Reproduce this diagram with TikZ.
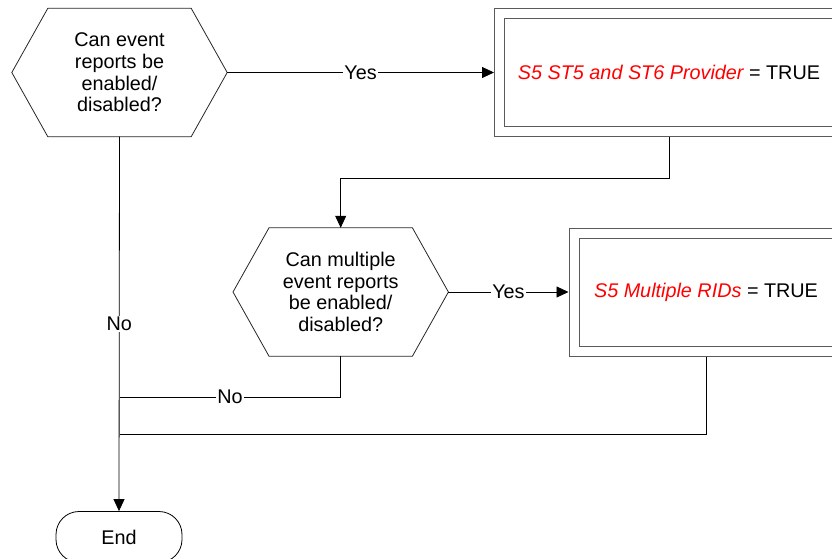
\documentclass[tikz,border=0pt]{standalone}
\usepackage{fontspec}
\setmainfont{Liberation Sans}
\usetikzlibrary{positioning,arrows.meta,calc}
\definecolor{flRed}{RGB}{255,0,0}
\definecolor{flGray}{RGB}{90,90,90}
% hexagonal outline round a decision node
\newcommand\drawhex[1]{\draw[hexline] (#1.west) -- ([xshift=36pt]#1.north west)
  -- ([xshift=-36pt]#1.north east) -- (#1.east) -- ([xshift=-36pt]#1.south east)
  -- ([xshift=36pt]#1.south west) -- cycle;}

\begin{document}
\begin{tikzpicture}[
  x=1pt, y=-1pt,
  font=\fontsize{19.8}{21.7}\selectfont,
  decision/.style={minimum width=215pt, minimum height=128pt, inner sep=0pt, align=center},
  hexline/.style={draw=black!85, line width=0.8pt},
  procbox/.style={draw=flGray, line width=1pt, double=white, double distance=9pt,
    outer sep=5.5pt, minimum height=118pt, inner sep=0pt},
  terminal/.style={draw=black, line width=0.8pt, rounded corners=23pt,
    minimum width=126pt, minimum height=51pt},
  line/.style={draw=black, line width=0.8pt},
  arr/.style={line, -{Triangle[length=12pt,width=11pt]}},
  lbl/.style={fill=white, inner sep=1pt},
]
\useasboundingbox (0,0) rectangle (832,559);
% decisions
\node[decision] (q1) at (119.5,72.5) {Can event\\reports be\\enabled/\\disabled?};
\node[decision] (q2) at (340.7,292) {Can multiple\\event reports\\be enabled/\\disabled?};
\drawhex{q1}
\drawhex{q2}
% results
\node[procbox, minimum width=339pt] (p1) at (669,72.5)
  {\textcolor{flRed}{\itshape S5 ST5 and ST6 Provider} = TRUE};
\node[procbox, minimum width=264pt] (p2) at (706,292)
  {\textcolor{flRed}{\itshape S5 Multiple RIDs} = TRUE};
% end
\node[terminal] (endn) at (119,537) {End};
% connectors
\draw[arr] (q1.east) -- node[lbl] {Yes} (p1.west);
\draw[arr] (p1.south) -- ++(0,41.5) -| (q2.north);
\draw[arr] (q2.east) -- node[lbl] {Yes} (p2.west);
\draw[line] (q2.south) -- ++(0,41) coordinate (n2) -- node[lbl] {No} (n2 -| q1.south);
\draw[line] (p2.south) -- ++(0,78) coordinate (n3) -- (n3 -| q1.south);
\draw[arr] (q1.south) -- node[lbl] {No} (endn.north);
\end{tikzpicture}
\end{document}
